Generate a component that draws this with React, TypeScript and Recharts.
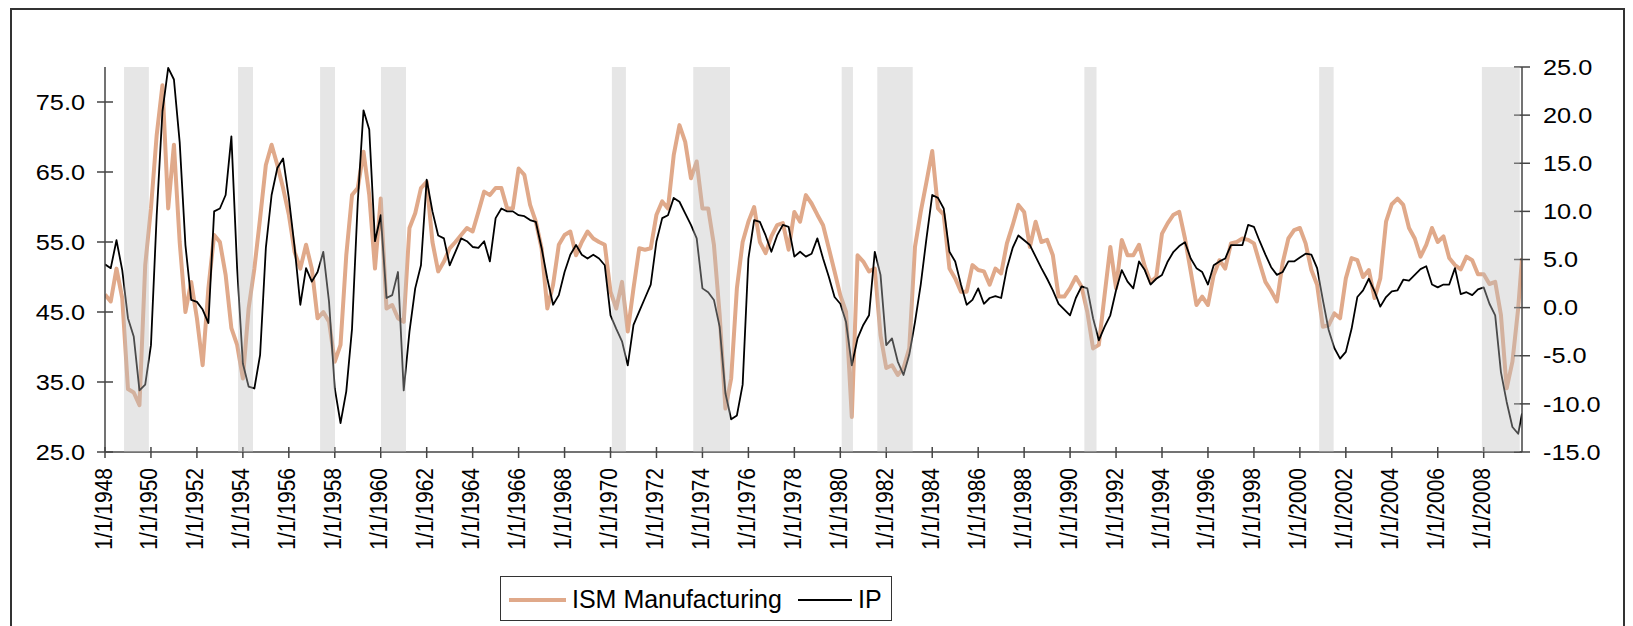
import React from 'react'
import { LineChart, Line, XAxis, YAxis, ReferenceArea } from 'recharts'

// quarterly readings (Jan, Apr, Jul, Oct) per year
const YEARS = [
  1948, 1949, 1950, 1951, 1952, 1953, 1954, 1955, 1956, 1957,
  1958, 1959, 1960, 1961, 1962, 1963, 1964, 1965, 1966, 1967,
  1968, 1969, 1970, 1971, 1972, 1973, 1974, 1975, 1976, 1977,
  1978, 1979, 1980, 1981, 1982, 1983, 1984, 1985, 1986, 1987,
  1988, 1989, 1990, 1991, 1992, 1993, 1994, 1995, 1996, 1997,
  1998, 1999, 2000, 2001, 2002, 2003, 2004, 2005, 2006, 2007,
  2008, 2009,
]
const QUARTER_MONTHS = [0, 3, 6, 9]

const ISM_Q: number[][] = [
  [47.5, 46.5, 51.2, 47.0], [34.0, 33.5, 31.7, 51.7], [59.8, 70.3, 77.4, 59.8], [68.9, 55.0, 45.0, 49.3],
  [44.1, 37.4, 48.4, 56.0], [55.0, 50.3, 42.7, 40.3], [35.5, 45.5, 51.2, 58.4], [66.0, 68.9, 66.0, 62.7],
  [58.9, 53.6, 51.2, 54.6], [51.2, 44.1, 45.0, 43.6], [37.9, 40.3, 53.1, 61.7], [62.7, 67.9, 61.7, 51.2],
  [61.2, 45.5, 46.0, 44.1], [43.6, 57.0, 59.1, 62.7], [63.6, 55.0, 50.8, 52.2], [54.1, 55.0, 56.0, 57.0],
  [56.5, 59.3, 62.2, 61.7], [62.7, 62.7, 59.8, 59.8], [65.5, 64.6, 60.3, 57.9], [54.1, 45.5, 48.9, 54.6],
  [56.0, 56.5, 53.1, 55.0], [56.5, 55.5, 55.0, 54.6], [47.9, 45.5, 49.3, 42.2], [48.4, 54.1, 53.9, 54.1],
  [58.9, 60.8, 59.8, 67.4], [71.7, 69.3, 64.1, 66.5], [59.8, 59.8, 54.6, 44.6], [31.2, 35.5, 48.4, 55.0],
  [57.9, 60.0, 55.0, 53.4], [55.8, 57.4, 57.7, 53.9], [59.3, 57.9, 61.7, 60.5], [58.9, 57.4, 54.1, 50.8],
  [47.4, 45.0, 30.0, 53.1], [52.2, 50.8, 51.2, 41.7], [37.0, 37.4, 36.0, 37.0], [39.8, 54.3, 59.3, 63.6],
  [68.0, 59.8, 58.9, 51.2], [49.8, 47.9, 47.9, 51.7], [51.0, 50.8, 48.9, 51.2], [50.5, 54.8, 57.4, 60.3],
  [59.3, 54.3, 57.9, 55.0], [55.3, 53.1, 47.2, 47.2], [48.4, 50.0, 48.6, 45.0], [39.8, 40.3, 47.4, 54.3],
  [48.4, 55.3, 53.1, 53.1], [54.6, 51.5, 49.3, 50.0], [56.2, 57.7, 58.9, 59.3], [55.5, 50.8, 46.0, 47.2],
  [46.0, 50.3, 52.4, 51.2], [54.8, 55.0, 55.5, 55.3], [54.8, 52.0, 49.3, 48.0], [46.5, 52.0, 55.5, 56.7],
  [57.0, 54.8, 51.0, 48.9], [42.9, 43.1, 44.8, 44.1], [49.8, 52.7, 52.4, 50.0], [51.0, 47.0, 49.8, 57.9],
  [60.4, 61.2, 60.3, 57.0], [55.5, 52.9, 54.6, 57.0], [55.0, 55.8, 52.7, 51.7], [51.1, 52.9, 52.4, 50.4],
  [50.4, 49.0, 49.3, 44.6], [34.1, 37.9, 45.5],
]

const IP_Q: number[][] = [
  [4.5, 4.1, 7.0, 3.9], [-1.1, -3.0, -8.6, -8.0], [-3.9, 9.6, 20.4, 24.9], [23.7, 17.2, 6.5, 0.8],
  [0.6, -0.2, -1.6, 10.0], [10.3, 11.7, 17.8, 4.1], [-5.8, -8.2, -8.4, -4.9], [6.2, 11.7, 14.5, 15.5],
  [11.4, 6.3, 0.3, 4.1], [2.7, 3.7, 5.8, 0.6], [-8.4, -12.0, -8.7, -2.2], [11.0, 20.5, 18.5, 6.9],
  [9.6, 1.0, 1.3, 3.7], [-8.6, -2.5, 2.0, 4.4], [13.3, 10.0, 7.5, 7.2], [4.4, 5.8, 7.2, 6.9],
  [6.3, 6.2, 6.9, 4.8], [9.3, 10.3, 10.0, 10.0], [9.6, 9.5, 9.1, 8.9], [6.2, 3.0, 0.3, 1.3],
  [3.7, 5.5, 6.5, 5.5], [5.1, 5.5, 5.1, 4.4], [-0.8, -2.2, -3.5, -6.0], [-1.8, -0.4, 1.0, 2.4],
  [6.9, 9.3, 9.6, 11.4], [11.0, 9.8, 8.6, 7.2], [2.0, 1.6, 0.8, -2.0], [-8.9, -11.6, -11.2, -8.0],
  [5.1, 9.1, 8.9, 7.5], [5.8, 7.5, 8.6, 8.4], [5.3, 5.8, 5.3, 5.6], [7.2, 5.1, 3.2, 1.1],
  [0.4, -1.5, -6.0, -3.2], [-1.8, -0.8, 5.8, 3.4], [-3.9, -3.2, -5.6, -7.0], [-4.9, -1.5, 2.4, 7.2],
  [11.7, 11.4, 10.3, 5.8], [4.8, 2.4, 0.3, 0.8], [2.0, 0.4, 1.0, 1.2], [1.0, 4.1, 6.2, 7.5],
  [7.0, 6.5, 5.3, 4.1], [3.0, 1.8, 0.4, -0.2], [-0.8, 1.0, 2.2, 2.0], [-1.1, -3.4, -2.0, -0.8],
  [1.8, 3.9, 2.7, 2.0], [4.8, 3.9, 2.4, 3.0], [3.4, 4.8, 5.8, 6.4], [6.8, 5.1, 4.1, 3.7],
  [2.4, 4.4, 4.8, 5.1], [6.5, 6.5, 6.5, 8.6], [8.4, 6.9, 5.5, 4.2], [3.4, 3.7, 4.8, 4.8],
  [5.2, 5.6, 5.5, 4.1], [0.8, -2.3, -4.2, -5.3], [-4.6, -2.2, 1.1, 1.8], [3.0, 1.7, 0.1, 1.1],
  [1.7, 1.8, 2.9, 2.8], [3.4, 4.0, 4.3, 2.4], [2.1, 2.4, 2.4, 4.1], [1.4, 1.6, 1.3, 1.9],
  [2.1, 0.4, -0.8, -6.7], [-9.8, -12.4, -13.1],
]

// last observation (Sep 2009)
const LAST_YEAR = 2009
const LAST_MONTH = 8
const ISM_LAST = 52.7
const IP_LAST = -11.0

// shaded recession periods, decimal years
const RECESSIONS: [number, number][] = [
  [1948.83, 1949.91], [1953.79, 1954.44], [1957.36, 1958.01], [1960.01, 1961.1],
  [1970.06, 1970.67], [1973.6, 1975.2], [1980.06, 1980.55], [1981.61, 1983.15],
  [1990.62, 1991.15], [2000.84, 2001.47], [2007.92, 2009.57],
]

const X_TICKS = [
  1948, 1950, 1952, 1954, 1956, 1958, 1960, 1962, 1964, 1966, 1968, 1970, 1972, 1974, 1976,
  1978, 1980, 1982, 1984, 1986, 1988, 1990, 1992, 1994, 1996, 1998, 2000, 2002, 2004, 2006, 2008,
]
const LEFT_TICKS = [25, 35, 45, 55, 65, 75]
const RIGHT_TICKS = [-15, -10, -5, 0, 5, 10, 15, 20, 25]

const ISM_COLOR = '#E0A98A'
const AXIS_COLOR = '#444'
const FONT = '"Liberation Sans", Arial, sans-serif'
const CHART_MARGIN = { top: 67, right: 21, left: 35, bottom: 74 }
const X_DOMAIN = [1948, LAST_YEAR + LAST_MONTH / 12]

const data = [
  ...YEARS.flatMap((yr, i) =>
    ISM_Q[i].map((v, q) => ({ t: yr + QUARTER_MONTHS[q] / 12, ism: v, ip: IP_Q[i][q] }))
  ),
  { t: LAST_YEAR + LAST_MONTH / 12, ism: ISM_LAST, ip: IP_LAST },
]

const LeftTick = (props: any) => {
  const { x, y, payload } = props
  return (
    <g>
      <line x1={x - 8} x2={x + 8} y1={y} y2={y} stroke={AXIS_COLOR} strokeWidth={1.5} />
      <text
        transform={`translate(${x - 20},${y}) scale(1.15,1)`}
        textAnchor="end"
        dy="0.35em"
        fontSize={22}
        fontFamily={FONT}
        fill="#000"
      >
        {Number(payload.value).toFixed(1)}
      </text>
    </g>
  )
}

const RightTick = (props: any) => {
  const { x, y, payload } = props
  return (
    <g>
      <line x1={x - 8} x2={x + 8} y1={y} y2={y} stroke={AXIS_COLOR} strokeWidth={1.5} />
      <text
        transform={`translate(${x + 21},${y}) scale(1.15,1)`}
        textAnchor="start"
        dy="0.35em"
        fontSize={22}
        fontFamily={FONT}
        fill="#000"
      >
        {Number(payload.value).toFixed(1)}
      </text>
    </g>
  )
}

const XTick = (props: any) => {
  const { x, y, payload } = props
  return (
    <g>
      <line x1={x} x2={x} y1={y - 5} y2={y + 6} stroke={AXIS_COLOR} strokeWidth={1.5} />
      <text
        transform={`translate(${x + 6.5},${y + 16}) scale(1.15,1) rotate(-90)`}
        textAnchor="end"
        fontSize={21}
        fontFamily={FONT}
        fill="#000"
      >
        {`1/1/${payload.value}`}
      </text>
    </g>
  )
}

function LegendBox() {
  return (
    <div
      style={{
        position: 'absolute',
        left: 500,
        top: 576,
        width: 392,
        height: 45,
        border: '1.5px solid #333',
        background: '#fff',
        boxSizing: 'border-box',
      }}
    >
      <svg width={392} height={45} style={{ display: 'block' }}>
        <line x1={8} x2={65} y1={23} y2={23} stroke={ISM_COLOR} strokeWidth={4} />
        <text x={71} y={31} fontSize={25} fontFamily={FONT} fill="#000">ISM Manufacturing</text>
        <line x1={297} x2={351} y1={23} y2={23} stroke="#000" strokeWidth={1.8} />
        <text x={357} y={31} fontSize={25} fontFamily={FONT} fill="#000">IP</text>
      </svg>
    </div>
  )
}

// translucent recession shading laid over the lines, same plot box as the main chart
function RecessionOverlay() {
  return (
    <LineChart width={1633} height={626} data={data} margin={CHART_MARGIN}>
      <XAxis
        dataKey="t"
        type="number"
        domain={X_DOMAIN}
        allowDataOverflow
        height={100}
        axisLine={false}
        tickLine={false}
        tick={false}
      />
      <YAxis yAxisId="left" domain={[25, 80]} allowDataOverflow width={70} axisLine={false} tickLine={false} tick={false} />
      <YAxis
        yAxisId="right"
        orientation="right"
        domain={[-15, 25]}
        allowDataOverflow
        width={90}
        axisLine={false}
        tickLine={false}
        tick={false}
      />
      {RECESSIONS.map(([a, b], i) => (
        <ReferenceArea key={i} yAxisId="left" x1={a} x2={b} fill="#BEBEBE" fillOpacity={0.39} stroke="none" />
      ))}
    </LineChart>
  )
}

export default function App() {
  return (
    <div
      style={{
        position: 'absolute',
        left: 0,
        top: 0,
        width: 1633,
        height: 626,
        overflow: 'hidden',
        background: '#fff',
        fontFamily: FONT,
      }}
    >
      {/* outer frame, bottom edge is cut off */}
      <div
        style={{
          position: 'absolute',
          left: 10,
          top: 8,
          width: 1615,
          height: 700,
          border: '2px solid #333',
          boxSizing: 'border-box',
        }}
      />
      <div style={{ position: 'absolute', left: 0, top: 0 }}>
        <LineChart width={1633} height={626} data={data} margin={CHART_MARGIN}>
          <XAxis
            dataKey="t"
            type="number"
            domain={X_DOMAIN}
            allowDataOverflow
            ticks={X_TICKS}
            interval={0}
            tick={<XTick />}
            tickLine={false}
            tickSize={0}
            tickMargin={0}
            height={100}
            axisLine={{ stroke: AXIS_COLOR, strokeWidth: 1.5 }}
          />
          <YAxis
            yAxisId="left"
            domain={[25, 80]}
            allowDataOverflow
            ticks={LEFT_TICKS}
            interval={0}
            tick={<LeftTick />}
            tickLine={false}
            tickSize={0}
            tickMargin={0}
            width={70}
            axisLine={{ stroke: AXIS_COLOR, strokeWidth: 1.5 }}
          />
          <YAxis
            yAxisId="right"
            orientation="right"
            domain={[-15, 25]}
            allowDataOverflow
            ticks={RIGHT_TICKS}
            interval={0}
            tick={<RightTick />}
            tickLine={false}
            tickSize={0}
            tickMargin={0}
            width={90}
            axisLine={{ stroke: AXIS_COLOR, strokeWidth: 1.5 }}
          />
          <Line
            yAxisId="left"
            dataKey="ism"
            type="linear"
            stroke={ISM_COLOR}
            strokeWidth={4}
            strokeLinejoin="round"
            dot={false}
            activeDot={false}
            isAnimationActive={false}
          />
          <Line
            yAxisId="right"
            dataKey="ip"
            type="linear"
            stroke="#000"
            strokeWidth={1.8}
            strokeLinejoin="round"
            dot={false}
            activeDot={false}
            isAnimationActive={false}
          />
        </LineChart>
      </div>
      <div style={{ position: 'absolute', left: 0, top: 0, pointerEvents: 'none' }}>
        <RecessionOverlay />
      </div>
      <LegendBox />
    </div>
  )
}
